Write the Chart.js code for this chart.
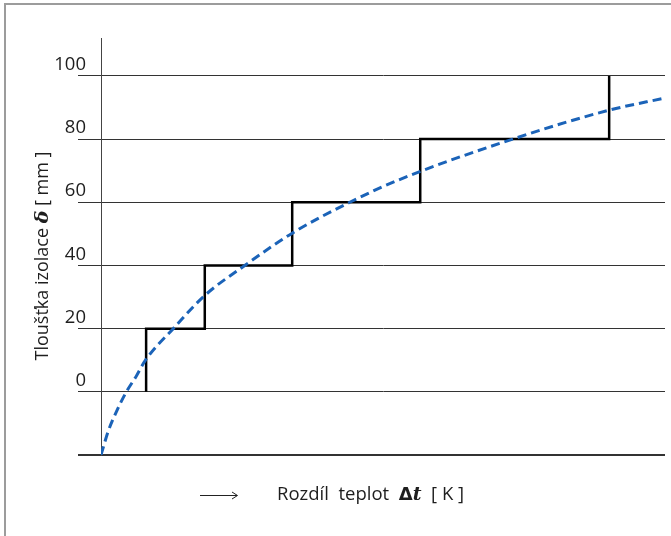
<!DOCTYPE html>
<html>
<head>
<meta charset="utf-8">
<script src="https://cdn.jsdelivr.net/npm/chart.js@4.4.1/dist/chart.umd.min.js"></script>
<style>
  html, body { margin: 0; padding: 0; background: #fff; }
  #wrap { position: relative; width: 671px; height: 536px; }
  #frame { position: absolute; left: 4px; top: 3px; right: 0; bottom: 0;
           border-left: 2px solid #9c9c9c; border-top: 2px solid #9c9c9c; }
  #c { position: absolute; left: 0; top: 0; }
</style>
</head>
<body>
<div id="wrap">
  <div id="frame"></div>
  <canvas id="c" width="671" height="536"></canvas>
</div>
<script>
// y ticks (mm); the bottom line has no label
const yTicks = [-20, 0, 20, 40, 60, 80, 100];
const yTickLabels = ['', '0', '20', '40', '60', '80', '100'];

// staircase: standard insulation thicknesses
const stepX = [0.8, 1.84, 3.39, 5.66, 9.01, 9.01];
const stepY = [0, 20, 40, 60, 80, 100];

// dashed curve: theoretical thickness
const curveX = [0, 0.13, 0.28, 0.45, 0.63, 0.78, 1.28, 1.84, 2.55, 3.39, 4.41, 5.27, 7.30, 9.02, 10];
const curveY = [-20, -12.4, -6, 0, 5.1, 9.8, 20, 30.5, 40, 50.2, 60, 67, 80, 89.2, 93];

const yTitle = [
  { t: 'Tloušťka izolace ', f: '18px "Open Sans"' },
  { t: 'δ', f: 'bold italic 19px "DejaVu Serif"' },
  { t: ' [ mm ]', f: '18px "Open Sans"' }
];
const xTitle = [
  { t: 'Rozdíl  teplot  ', f: '18.5px "Open Sans"' },
  { t: 'Δ', f: 'bold 18px "DejaVu Sans"' },
  { t: 't', f: 'bold italic 19px "DejaVu Serif"' },
  { t: '  [ K ]', f: '18.5px "Open Sans"' }
];

const toXY = (xs, ys) => xs.map((x, i) => ({ x: x, y: ys[i] }));

// draws the two axis titles (mixed fonts) and the arrow
const titles = {
  id: 'titles',
  afterDraw(chart) {
    const ctx = chart.ctx;
    const drawParts = (parts, x, y) => {
      parts.forEach(p => {
        ctx.font = p.f;
        ctx.fillText(p.t, x, y);
        x += ctx.measureText(p.t).width;
      });
    };
    const width = parts => parts.reduce((s, p) => { ctx.font = p.f; return s + ctx.measureText(p.t).width; }, 0);

    ctx.save();
    ctx.fillStyle = '#1e1e1e';
    ctx.textBaseline = 'middle';
    ctx.textAlign = 'left';

    // x title
    drawParts(xTitle, 277, 495);

    // arrow
    ctx.strokeStyle = '#222';
    ctx.lineWidth = 1;
    ctx.beginPath();
    ctx.moveTo(200, 495.5); ctx.lineTo(237, 495.5);
    ctx.moveTo(232, 492); ctx.lineTo(237.5, 495.5); ctx.lineTo(232, 499);
    ctx.stroke();

    // y title, rotated
    ctx.translate(43, 256);
    ctx.rotate(-Math.PI / 2);
    drawParts(yTitle, -width(yTitle) / 2, 0);
    ctx.restore();
  }
};

new Chart(document.getElementById('c'), {
  type: 'scatter',
  data: {
    datasets: [
      {
        label: 'Standard',
        data: toXY(stepX, stepY),
        showLine: true,
        stepped: 'after',
        borderColor: '#000',
        borderWidth: 2.5,
        pointRadius: 0,
        order: 2
      },
      {
        label: 'Teorie',
        data: toXY(curveX, curveY),
        showLine: true,
        cubicInterpolationMode: 'monotone',
        borderColor: '#1b63b8',
        borderWidth: 3,
        borderDash: [9, 5],
        pointRadius: 0,
        order: 1
      }
    ]
  },
  options: {
    responsive: false,
    animation: false,
    layout: { padding: { left: 0, right: 6, top: 38, bottom: 81 } },
    plugins: { legend: { display: false }, tooltip: { enabled: false } },
    scales: {
      x: { type: 'linear', min: 0, max: 10, display: false },
      y: {
        type: 'linear',
        min: -20,
        max: 112,
        afterBuildTicks: s => { s.ticks = yTicks.map(v => ({ value: v })); },
        afterFit: s => { s.width = 101; },
        grid: {
          color: '#333',
          lineWidth: c => (c.tick && c.tick.value === -20 ? 2 : 1),
          drawTicks: true,
          tickLength: 23
        },
        border: { display: true, color: '#444', width: 1 },
        ticks: {
          padding: -8,
          color: '#1e1e1e',
          font: { family: 'Open Sans', size: 18.5, lineHeight: 1.2 },
          callback: (v) => {
            const i = yTicks.indexOf(v);
            return i >= 0 && yTickLabels[i] ? [yTickLabels[i], ''] : '';
          }
        }
      }
    }
  },
  plugins: [titles]
});
</script>
</body>
</html>
